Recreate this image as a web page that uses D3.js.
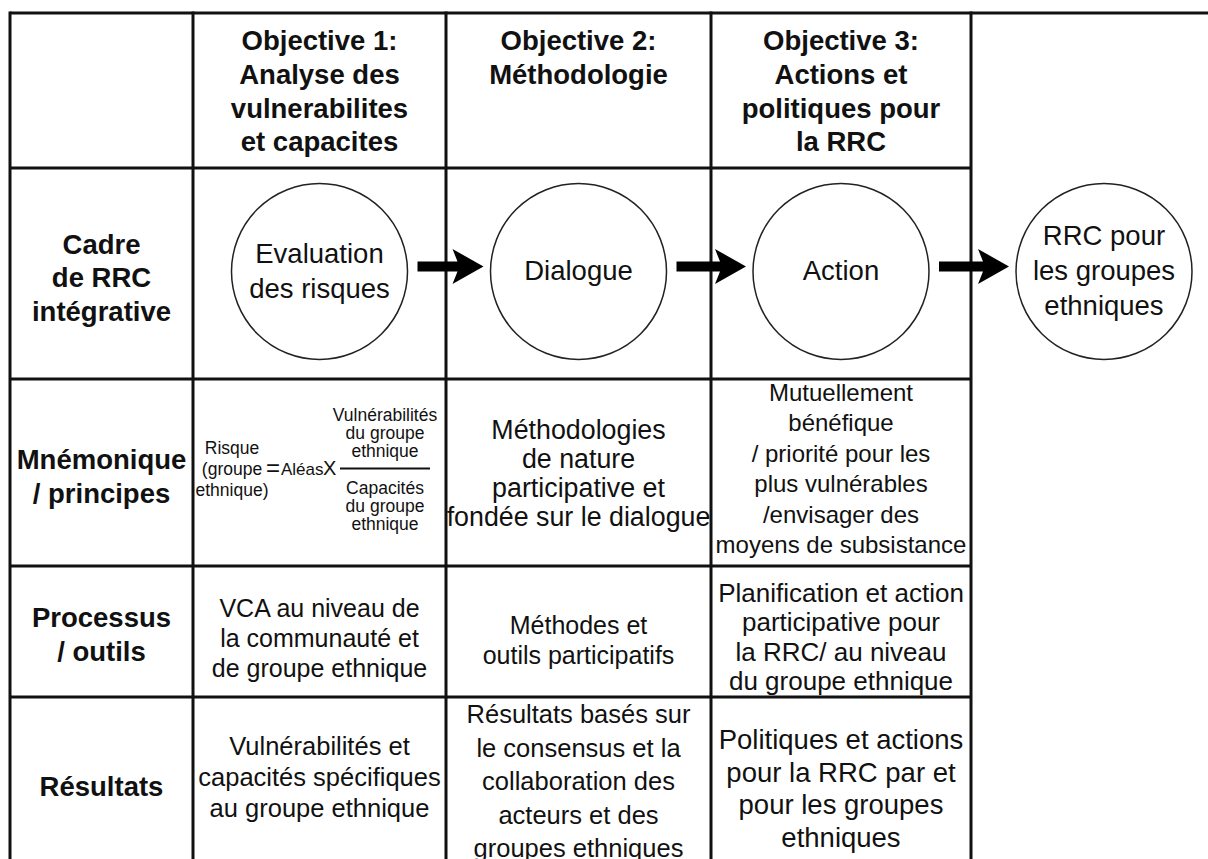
<!DOCTYPE html>
<html><head><meta charset="utf-8">
<script src="https://cdn.jsdelivr.net/npm/d3@7"></script>
<style>body{margin:0;background:#fff}svg{display:block}</style>
</head><body><svg id="c" width="1208" height="859"></svg>
<script>
// ---------- data ----------
const headers = [
  ["Objective 1:", "Analyse des", "vulnerabilites", "et capacites"],
  ["Objective 2:", "Méthodologie"],
  ["Objective 3:", "Actions et", "politiques pour", "la RRC"]
];
const rowLabels = [
  ["Cadre", "de RRC", "intégrative"],
  ["Mnémonique", "/ principes"],
  ["Processus", "/ outils"],
  ["Résultats"]
];
const stages = [
  ["Evaluation", "des risques"],
  ["Dialogue"],
  ["Action"],
  ["RRC pour", "les groupes", "ethniques"]
];
const formulaLeft = ["Risque", "(groupe", "ethnique)"];
const formulaOps = ["=", "Aléas", "X"];
const formulaNumerator = ["Vulnérabilités", "du groupe", "ethnique"];
const formulaDenominator = ["Capacités", "du groupe", "ethnique"];
const principles = [
  ["Méthodologies", "de nature", "participative et", "fondée sur le dialogue"],
  ["Mutuellement", "bénéfique", "/ priorité pour les", "plus vulnérables", "/envisager des", "moyens de subsistance"]
];
const processes = [
  ["VCA au niveau de", "la communauté et", "de groupe ethnique"],
  ["Méthodes et", "outils participatifs"],
  ["Planification et action", "participative pour", "la RRC/ au niveau", "du groupe ethnique"]
];
const results = [
  ["Vulnérabilités et", "capacités spécifiques", "au groupe ethnique"],
  ["Résultats basés sur", "le consensus et la", "collaboration des", "acteurs et des", "groupes ethniques"],
  ["Politiques et actions", "pour la RRC par et", "pour les groupes", "ethniques"]
];

// ---------- layout ----------
const W = 1208, H = 859;
const FONT = "'Liberation Sans', Arial, Helvetica, sans-serif";
const colX = d3.scaleLinear().domain([0, 1, 2, 3, 4]).range([10, 193, 446, 711, 971]);
const rowY = d3.scaleLinear().domain([0, 1, 2, 3, 4, 5]).range([13, 168, 379, 566, 697, 875]);
const colC = i => (colX(i) + colX(i + 1)) / 2;
const rowC = i => (rowY(i) + rowY(i + 1)) / 2;

const svg = d3.select("#c");
const gLines = svg.append("g");
const gShapes = svg.append("g");
const gText = svg.append("g").attr("font-family", FONT).attr("fill", "#111");

// table lines
const hLines = [
  { y: rowY(0), x1: colX(0), x2: W },
  ...[1, 2, 3, 4].map(i => ({ y: rowY(i), x1: colX(0), x2: colX(4) }))
];
gLines.selectAll("line.h").data(hLines).join("line")
  .attr("x1", d => d.x1).attr("x2", d => d.x2)
  .attr("y1", d => d.y).attr("y2", d => d.y)
  .attr("stroke", "#111").attr("stroke-width", 3);
gLines.selectAll("line.v").data([0, 1, 2, 3, 4]).join("line")
  .attr("x1", d => colX(d)).attr("x2", d => colX(d))
  .attr("y1", rowY(0) - 1.5).attr("y2", H + 5)
  .attr("stroke", "#111").attr("stroke-width", 3);

// text helpers
function block(lines, cx, cy, size, lh, weight, anchor) {
  const n = lines.length;
  gText.append("g").selectAll("text").data(lines).join("text")
    .attr("x", cx)
    .attr("y", (d, k) => cy + (k - (n - 1) / 2) * lh + size * 0.355)
    .attr("text-anchor", anchor || "middle")
    .attr("font-size", size)
    .attr("font-weight", weight || "normal")
    .text(d => d);
}
function blockTop(lines, cx, y0, size, lh, weight) {
  gText.append("g").selectAll("text").data(lines).join("text")
    .attr("x", cx).attr("y", (d, k) => y0 + k * lh)
    .attr("text-anchor", "middle")
    .attr("font-size", size).attr("font-weight", weight || "normal")
    .text(d => d);
}

// headers
headers.forEach((h, i) => blockTop(h, colC(i + 1), rowY(0) + 37, 27.5, 33.8, "bold"));

// row labels
const labelDy = [4, 3.5, 2.5, 0];
rowLabels.forEach((l, i) => block(l, colC(0), rowC(i + 1) + labelDy[i], 27.5, 33.5, "bold"));

// stage circles
const R = 88;
const circleY = rowC(1) - 2;
const stageX = [colC(1), colC(2), colC(3), colX(4) + 133];
gShapes.selectAll("circle").data(stages).join("circle")
  .attr("cx", (d, i) => stageX[i]).attr("cy", circleY).attr("r", R)
  .attr("fill", "#fff").attr("stroke", "#222").attr("stroke-width", 1.5);
stages.forEach((s, i) => block(s, stageX[i], circleY - 1, 27.5, 35));

// arrows between circles
const arrowY = circleY - 5;
const arrows = d3.range(3).map(i => ({ x0: stageX[i] + R + 10, x1: stageX[i + 1] - R - 7 }));
const head = 31, half = 17.5, shaft = 5, notch = 5;
gShapes.selectAll("path").data(arrows).join("path")
  .attr("d", d => {
    const p = d3.path();
    const xb = d.x1 - head;
    p.moveTo(d.x0, arrowY - shaft);
    p.lineTo(xb + notch, arrowY - shaft);
    p.lineTo(xb, arrowY - half);
    p.lineTo(d.x1, arrowY);
    p.lineTo(xb, arrowY + half);
    p.lineTo(xb + notch, arrowY + shaft);
    p.lineTo(d.x0, arrowY + shaft);
    p.closePath();
    return p.toString();
  })
  .attr("fill", "#000");

// formula (row 2, column 1)
const fy = rowC(2) - 4;            // fraction bar level
block(formulaLeft, colX(1) + 39, fy, 17.5, 21);
gText.append("text").attr("x", colX(1) + 80).attr("y", fy + 7.5)
  .attr("font-size", 24).attr("text-anchor", "middle").text(formulaOps[0]);
gText.append("text").attr("x", colX(1) + 88).attr("y", fy + 6)
  .attr("font-size", 17).text(formulaOps[1]);
gText.append("text").attr("x", colX(1) + 130).attr("y", fy + 6.5)
  .attr("font-size", 20).text(formulaOps[2]);
const fracX = colX(1) + 192;
gShapes.append("line").attr("x1", fracX - 45).attr("x2", fracX + 45)
  .attr("y1", fy).attr("y2", fy).attr("stroke", "#111").attr("stroke-width", 2);
block(formulaNumerator, fracX, fy - 36, 17.5, 18);
block(formulaDenominator, fracX, fy + 37, 17.5, 18);

// principles
block(principles[0], colC(2), rowC(2), 26.8, 29);
block(principles[1], colC(3), rowC(2) - 4, 24, 30.5);

// processes
block(processes[0], colC(1), rowC(3) + 6.5, 25, 30);
block(processes[1], colC(2), rowC(3) + 8.5, 25, 30);
block(processes[2], colC(3), rowC(3) + 5.5, 26, 29.5);

// results
const r4 = rowY(4);
blockTop(results[0], colC(1), r4 + 58, 25.5, 31);
blockTop(results[1], colC(2), r4 + 26, 25.5, 33.5);
blockTop(results[2], colC(3), r4 + 52, 27.5, 32.5);
</script>
</body></html>
